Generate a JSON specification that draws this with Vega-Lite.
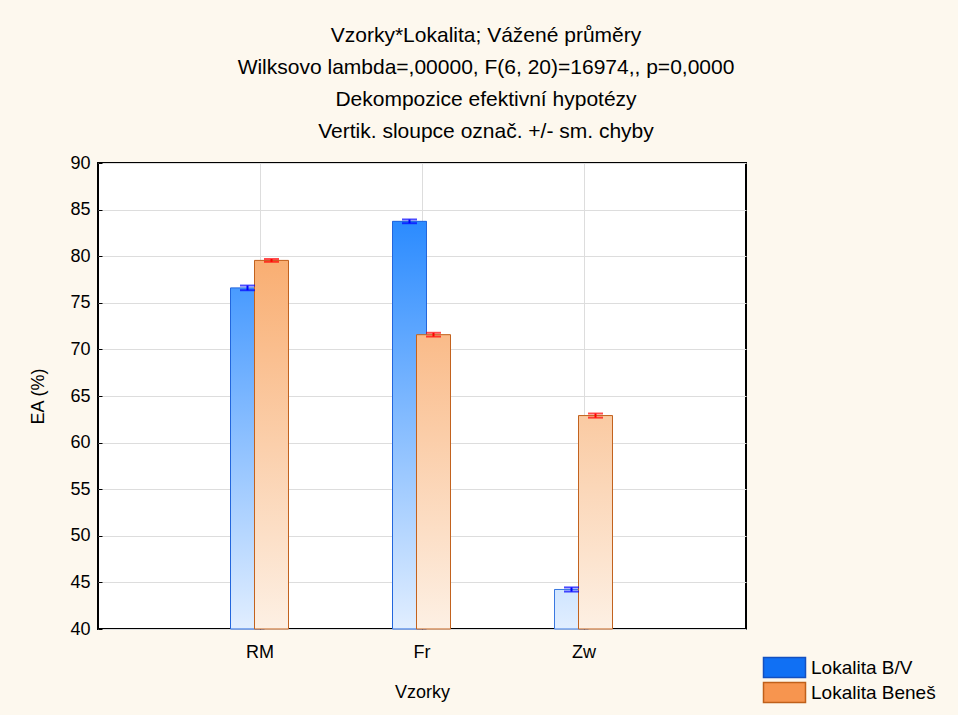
{
  "$schema": "https://vega.github.io/schema/vega-lite/v6.json",
  "width": 648,
  "height": 466,
  "autosize": {"type": "none"},
  "padding": {"left": 98, "top": 163, "right": 212, "bottom": 86},
  "background": "#FDF8EE",
  "config": {
    "font": "Liberation Sans",
    "view": {"fill": "white", "stroke": "black", "strokeWidth": 2}
  },
  "title": {
    "text": ["Vzorky*Lokalita; Vážené průměry", "Wilksovo lambda=,00000, F(6, 20)=16974,, p=0,0000", "Dekompozice efektivní hypotézy", "Vertik. sloupce označ. +/- sm. chyby"],
    "anchor": "middle",
    "dx": 64,
    "fontSize": 21,
    "fontWeight": "normal",
    "lineHeight": 32,
    "color": "black",
    "offset": 12
  },
  "data": {
    "values": [
      {"Vzorky": "RM", "Lokalita": "Lokalita B/V", "EA": 76.6, "se": 0.25},
      {"Vzorky": "RM", "Lokalita": "Lokalita Beneš", "EA": 79.55, "se": 0.15},
      {"Vzorky": "Fr", "Lokalita": "Lokalita B/V", "EA": 83.74, "se": 0.2},
      {"Vzorky": "Fr", "Lokalita": "Lokalita Beneš", "EA": 71.58, "se": 0.2},
      {"Vzorky": "Zw", "Lokalita": "Lokalita B/V", "EA": 44.24, "se": 0.22},
      {"Vzorky": "Zw", "Lokalita": "Lokalita Beneš", "EA": 62.9, "se": 0.22}
    ]
  },
  "encoding": {
    "x": {
      "field": "Vzorky", "type": "nominal", "sort": ["RM", "Fr", "Zw"],
      "scale": {"paddingInner": 0, "paddingOuter": 0.5},
      "axis": {"title": "Vzorky", "labelAngle": 0, "grid": true, "bandPosition": 0.5, "gridColor": "#DDDDDD", "domain": false, "tickSize": -4, "tickColor": "black", "labelPadding": 18, "labelFontSize": 18, "labelColor": "black", "titleFontSize": 18, "titleFontWeight": "normal", "titleColor": "black", "titlePadding": 22}
    },
    "xOffset": {"field": "Lokalita", "type": "nominal", "scale": {"range": [56.5, 104.5], "paddingInner": 0, "paddingOuter": 0}},
    "y": {
      "field": "EA", "type": "quantitative",
      "scale": {"domain": [40, 90], "zero": false, "nice": false},
      "axis": {"title": "EA (%)", "values": [40, 45, 50, 55, 60, 65, 70, 75, 80, 85, 90], "grid": true, "gridColor": "#DDDDDD", "domain": false, "tickSize": -4, "tickColor": "black", "labelPadding": 12, "labelFontSize": 18, "labelColor": "black", "titleFontSize": 18, "titleFontWeight": "normal", "titleColor": "black", "titlePadding": 22}
    }
  },
  "layer": [
    {
      "mark": {"type": "bar", "width": 34},
      "encoding": {
        "y2": {"datum": 40},
        "fill": {
          "field": "Lokalita", "type": "nominal",
          "scale": {"range": ["#1070F4", "#F7954F"]},
          "legend": {
            "title": null, "orient": "none", "legendX": 675, "legendY": 493,
            "symbolType": "M-2,-0.952H2V0.952H-2Z", "symbolSize": 441,
            "symbolStrokeWidth": 1.5, "labelFontSize": 19, "labelColor": "black",
            "labelOffset": 15, "rowPadding": -4,
            "encode": {"symbols": {"update": {"stroke": {"signal": "datum.value === 'Lokalita B/V' ? '#1450C0' : '#C0601A'"}, "strokeWidth": {"value": 1.5}}}}
          }
        }
      }
    },
    {
      "transform": [{"filter": "datum.Vzorky === 'RM' && datum.Lokalita === 'Lokalita B/V'"}],
      "mark": {"type": "bar", "width": 34, "stroke": "#2266DD", "strokeWidth": 1,
        "fill": {"gradient": "linear", "x1": 0, "y1": 0, "x2": 0, "y2": 1, "stops": [{"offset": 0, "color": "#499BFF"}, {"offset": 1, "color": "#E1EEFF"}]}},
      "encoding": {"y2": {"datum": 40}}
    },
    {
      "transform": [{"filter": "datum.Vzorky === 'Fr' && datum.Lokalita === 'Lokalita B/V'"}],
      "mark": {"type": "bar", "width": 34, "stroke": "#2266DD", "strokeWidth": 1,
        "fill": {"gradient": "linear", "x1": 0, "y1": 0, "x2": 0, "y2": 1, "stops": [{"offset": 0, "color": "#2B8BFF"}, {"offset": 1, "color": "#E1EEFF"}]}},
      "encoding": {"y2": {"datum": 40}}
    },
    {
      "transform": [{"filter": "datum.Vzorky === 'Zw' && datum.Lokalita === 'Lokalita B/V'"}],
      "mark": {"type": "bar", "width": 34, "stroke": "#3A78E0", "strokeWidth": 1,
        "fill": {"gradient": "linear", "x1": 0, "y1": 0, "x2": 0, "y2": 1, "stops": [{"offset": 0, "color": "#D0E5FF"}, {"offset": 1, "color": "#E1EEFF"}]}},
      "encoding": {"y2": {"datum": 40}}
    },
    {
      "transform": [{"filter": "datum.Vzorky === 'RM' && datum.Lokalita === 'Lokalita Beneš'"}],
      "mark": {"type": "bar", "width": 34, "stroke": "#C2621E", "strokeWidth": 1,
        "fill": {"gradient": "linear", "x1": 0, "y1": 0, "x2": 0, "y2": 1, "stops": [{"offset": 0, "color": "#F9AE72"}, {"offset": 1, "color": "#FDF0E4"}]}},
      "encoding": {"y2": {"datum": 40}}
    },
    {
      "transform": [{"filter": "datum.Vzorky === 'Fr' && datum.Lokalita === 'Lokalita Beneš'"}],
      "mark": {"type": "bar", "width": 34, "stroke": "#C2621E", "strokeWidth": 1,
        "fill": {"gradient": "linear", "x1": 0, "y1": 0, "x2": 0, "y2": 1, "stops": [{"offset": 0, "color": "#FABB89"}, {"offset": 1, "color": "#FDF0E4"}]}},
      "encoding": {"y2": {"datum": 40}}
    },
    {
      "transform": [{"filter": "datum.Vzorky === 'Zw' && datum.Lokalita === 'Lokalita Beneš'"}],
      "mark": {"type": "bar", "width": 34, "stroke": "#C2621E", "strokeWidth": 1,
        "fill": {"gradient": "linear", "x1": 0, "y1": 0, "x2": 0, "y2": 1, "stops": [{"offset": 0, "color": "#FACAA2"}, {"offset": 1, "color": "#FDF0E4"}]}},
      "encoding": {"y2": {"datum": 40}}
    },
    {
      "mark": {"type": "errorbar", "ticks": {"size": 15, "thickness": 2}, "thickness": 2},
      "encoding": {
        "yError": {"field": "se"},
        "color": {"field": "Lokalita", "type": "nominal", "scale": {"range": ["#0000FF", "#FF0000"]}, "legend": null}
      }
    }
  ]
}
